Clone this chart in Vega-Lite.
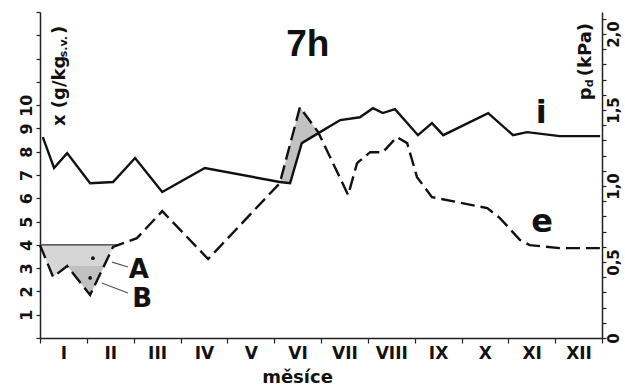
{
  "$schema": "https://vega.github.io/schema/vega-lite/v6.json",
  "width": 562,
  "height": 326,
  "autosize": {"type": "none"},
  "padding": {"left": 40, "top": 12, "right": 23, "bottom": 50},
  "background": "white",
  "config": {
    "view": {"stroke": null},
    "font": "DejaVu Sans",
    "axis": {"grid": false, "domainColor": "#222", "domainWidth": 1.5, "tickColor": "#222", "tickWidth": 1.2, "labelColor": "#111", "labelFont": "DejaVu Sans", "labelFontWeight": "bold"}
  },
  "datasets": {
    "i": [
      {"m": 0.06, "v": 8.63}, {"m": 0.30, "v": 7.30}, {"m": 0.58, "v": 7.94}, {"m": 1.07, "v": 6.65},
      {"m": 1.56, "v": 6.70}, {"m": 2.03, "v": 7.73}, {"m": 2.61, "v": 6.27}, {"m": 3.52, "v": 7.30},
      {"m": 5.12, "v": 6.70}, {"m": 5.34, "v": 6.65}, {"m": 5.59, "v": 8.37}, {"m": 5.98, "v": 8.84},
      {"m": 6.41, "v": 9.36}, {"m": 6.83, "v": 9.48}, {"m": 7.11, "v": 9.87}, {"m": 7.32, "v": 9.66},
      {"m": 7.58, "v": 9.83}, {"m": 8.07, "v": 8.71}, {"m": 8.37, "v": 9.23}, {"m": 8.61, "v": 8.71},
      {"m": 9.57, "v": 9.66}, {"m": 10.10, "v": 8.71}, {"m": 10.40, "v": 8.84}, {"m": 11.10, "v": 8.67},
      {"m": 11.96, "v": 8.67}
    ],
    "e": [
      {"m": 0.0, "v": 3.99}, {"m": 0.28, "v": 2.62}, {"m": 0.58, "v": 3.09}, {"m": 1.07, "v": 1.85},
      {"m": 1.56, "v": 3.91}, {"m": 2.07, "v": 4.29}, {"m": 2.61, "v": 5.45}, {"m": 3.59, "v": 3.39},
      {"m": 5.12, "v": 6.65}, {"m": 5.55, "v": 9.91}, {"m": 5.94, "v": 8.84}, {"m": 6.58, "v": 6.14},
      {"m": 6.77, "v": 7.51}, {"m": 7.05, "v": 7.98}, {"m": 7.32, "v": 7.98}, {"m": 7.62, "v": 8.63},
      {"m": 7.84, "v": 8.37}, {"m": 8.05, "v": 6.91}, {"m": 8.37, "v": 6.05}, {"m": 9.55, "v": 5.58},
      {"m": 9.82, "v": 5.15}, {"m": 10.25, "v": 4.21}, {"m": 10.46, "v": 3.99}, {"m": 11.10, "v": 3.86},
      {"m": 11.96, "v": 3.86}
    ]
  },
  "encoding": {
    "x": {
      "field": "m", "type": "quantitative",
      "scale": {"domain": [0, 12], "nice": false, "zero": false},
      "axis": {
        "values": [0, 1, 2, 3, 4, 5, 6, 7, 8, 9, 10, 11, 12],
        "labelExpr": "['I','II','III','IV','V','VI','VII','VIII','IX','X','XI','XII',''][datum.value]",
        "labelOffset": 23.4, "labelFlush": false, "labelOverlap": false,
        "labelFontSize": 17, "labelPadding": 2, "tickSize": 5,
        "title": "měsíce", "titleFont": "DejaVu Sans", "titleFontWeight": "bold", "titleFontSize": 18,
        "titleColor": "#111", "titleX": 257, "titleY": 44, "titleBaseline": "alphabetic", "titleAlign": "center"
      }
    }
  },
  "layer": [
    {
      "encoding": {
        "y": {
          "field": "v", "type": "quantitative",
          "scale": {"domain": [0, 14], "nice": false, "zero": false},
          "axis": {
            "orient": "left",
            "values": [0, 1, 2, 3, 4, 5, 6, 7, 8, 9, 10, 11, 12, 13, 14],
            "labelExpr": "datum.value >= 1 && datum.value <= 10 ? datum.label : ''",
            "labelAngle": -90, "labelAlign": "center", "labelBaseline": "bottom",
            "labelFontSize": 16, "labelPadding": 2, "tickSize": 4, "title": null
          }
        }
      },
      "layer": [
        {
          "data": {"values": [
            {"m": 0.0, "v": 3.99, "v2": 4}, {"m": 0.28, "v": 2.62, "v2": 4}, {"m": 0.58, "v": 3.09, "v2": 4},
            {"m": 1.07, "v": 1.85, "v2": 4}, {"m": 1.56, "v": 3.91, "v2": 4}, {"m": 1.68, "v": 4.0, "v2": 4}
          ]},
          "mark": {"type": "area", "color": "#d6d6d6"},
          "encoding": {"y2": {"field": "v2"}}
        },
        {
          "data": {"values": [
            {"m": 0.58, "v": 3.09, "v2": 3.09}, {"m": 1.07, "v": 1.85, "v2": 3.09}, {"m": 1.365, "v": 3.09, "v2": 3.09}
          ]},
          "mark": {"type": "area", "color": "#c0c0c0"},
          "encoding": {"y2": {"field": "v2"}}
        },
        {
          "data": {"values": [
            {"m": 5.12, "v": 6.68, "v2": 6.68}, {"m": 5.34, "v": 8.32, "v2": 6.65}, {"m": 5.55, "v": 9.91, "v2": 8.09},
            {"m": 5.59, "v": 9.80, "v2": 8.37}, {"m": 5.94, "v": 8.84, "v2": 8.79}
          ]},
          "mark": {"type": "area", "color": "#c2c2c2"},
          "encoding": {"y2": {"field": "v2"}}
        },
        {
          "data": {"values": [{"m": 0, "v": 4, "m2": 1.68}]},
          "mark": {"type": "rule", "color": "#333", "strokeWidth": 1.4},
          "encoding": {"x2": {"field": "m2"}}
        },
        {
          "data": {"name": "i"},
          "mark": {"type": "line", "color": "#111", "strokeWidth": 2.4, "strokeJoin": "miter"}
        },
        {
          "data": {"name": "e"},
          "mark": {"type": "line", "color": "#111", "strokeWidth": 2.4, "strokeDash": [14, 6], "strokeJoin": "miter"}
        },
        {
          "data": {"values": [
            {"m": 1.54, "v": 3.26, "m2": 1.88, "v2": 3.05},
            {"m": 1.32, "v": 2.36, "m2": 1.88, "v2": 1.93}
          ]},
          "mark": {"type": "rule", "color": "#555", "strokeWidth": 1.2},
          "encoding": {"x2": {"field": "m2"}, "y2": {"field": "v2"}}
        },
        {
          "data": {"values": [{"m": 1.13, "v": 3.43}, {"m": 1.07, "v": 2.58}]},
          "mark": {"type": "point", "filled": true, "color": "#111", "size": 14, "opacity": 1}
        },
        {
          "data": {"values": [{"m": 2.11, "v": 2.58, "t": "A"}, {"m": 2.18, "v": 1.33, "t": "B"}]},
          "mark": {"type": "text", "font": "DejaVu Sans", "fontWeight": "bold", "fontSize": 26, "color": "#111", "align": "center", "baseline": "alphabetic"},
          "encoding": {"text": {"field": "t"}}
        },
        {
          "data": {"values": [{"m": 10.70, "v": 9.23, "t": "i"}, {"m": 10.72, "v": 4.55, "t": "e"}]},
          "mark": {"type": "text", "font": "DejaVu Sans", "fontWeight": "bold", "fontSize": 32, "color": "#111", "align": "center", "baseline": "alphabetic"},
          "encoding": {"text": {"field": "t"}}
        },
        {
          "data": {"values": [{"m": 5.72, "v": 12.1, "t": "7h"}]},
          "mark": {"type": "text", "font": "Liberation Sans", "fontWeight": "bold", "fontSize": 37, "color": "#111", "align": "center", "baseline": "alphabetic"},
          "encoding": {"text": {"field": "t"}}
        },
        {
          "data": {"values": [
            {"m": 0.43, "v": 9.10, "t": "x (g/kg"},
            {"m": 0.43, "v": 13.05, "t": ")"},
            {"m": 11.66, "v": 10.21, "t": "p"},
            {"m": 11.66, "v": 11.24, "t": "(kPa)"}
          ]},
          "mark": {"type": "text", "font": "DejaVu Sans", "fontWeight": "bold", "fontSize": 18, "color": "#111", "align": "left", "baseline": "middle", "angle": 270},
          "encoding": {"text": {"field": "t"}}
        },
        {
          "data": {"values": [
            {"m": 0.51, "v": 12.06, "t": "s.v."},
            {"m": 11.745, "v": 10.77, "t": "d"}
          ]},
          "mark": {"type": "text", "font": "DejaVu Sans", "fontWeight": "bold", "fontSize": 11, "color": "#111", "align": "left", "baseline": "middle", "angle": 270},
          "encoding": {"text": {"field": "t"}}
        }
      ]
    },
    {
      "data": {"values": [{"m": 0, "p": 0}, {"m": 12, "p": 2}]},
      "mark": {"type": "point", "opacity": 0},
      "encoding": {
        "y": {
          "field": "p", "type": "quantitative",
          "scale": {"domain": [0, 2.145], "nice": false, "zero": false},
          "axis": {
            "orient": "right",
            "values": [0, 0.1, 0.2, 0.3, 0.4, 0.5, 0.6, 0.7, 0.8, 0.9, 1, 1.1, 1.2, 1.3, 1.4, 1.5, 1.6, 1.7, 1.8, 1.9, 2, 2.1],
            "labelExpr": "datum.value == 0 ? '0' : datum.value == 0.5 ? '0,5' : datum.value == 1 ? '1,0' : datum.value == 1.5 ? '1,5' : datum.value == 2 ? '2,0' : ''",
            "labelAngle": -90, "labelAlign": "center", "labelBaseline": "top",
            "labelFontSize": 15, "labelPadding": 0, "tickSize": 4, "title": null
          }
        }
      }
    }
  ],
  "resolve": {"scale": {"y": "independent"}}
}
